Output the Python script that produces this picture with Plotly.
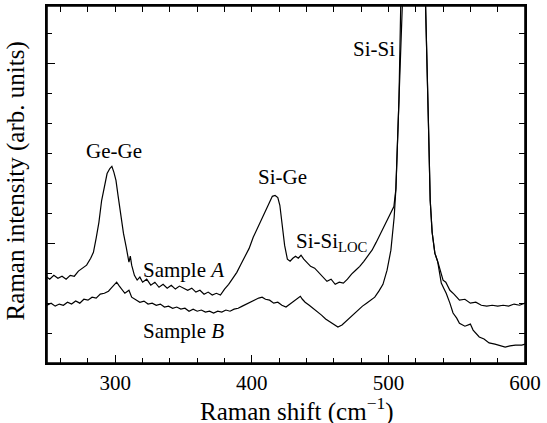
import plotly.graph_objects as go

# Raman shift (cm^-1) and intensity (arb. units)
shift_a = [250, 252, 255, 258, 261, 264, 267, 270, 273, 276, 279, 282, 284, 286, 288, 290, 292, 294, 296, 297.5,
           299, 300.5, 302, 304, 306, 308, 310, 311, 312, 314, 316, 318, 320, 323, 326, 329, 332, 335, 338, 341,
           344, 347, 350, 353, 356, 359, 362, 365, 368, 371, 374, 377, 380, 383, 386, 389, 392, 395, 398, 401,
           404, 407, 410, 413, 415, 417, 419, 420.5, 422, 424, 426, 428, 430, 432, 434, 436, 438, 440, 443, 446,
           449, 452, 455, 458, 461, 464, 467, 470, 473, 476, 479, 482, 485, 488, 491, 494, 497, 500, 502, 504,
           505.5, 507.7, 509, 511, 518, 524, 527.2, 529.3, 530.6, 532, 534, 536.5, 538, 540, 542, 545, 548, 552,
           556, 560, 564, 568, 572, 576, 580, 584, 588, 592, 596, 600]
int_a = [2.87, 2.80, 2.93, 2.83, 2.90, 2.80, 2.93, 2.90, 3.07, 3.17, 3.27, 3.50, 3.70, 4.17, 4.70, 5.43, 5.93, 6.33, 6.50, 6.57,
         6.37, 6.10, 5.60, 4.93, 4.33, 3.87, 3.37, 3.57, 3.27, 2.93, 2.77, 2.87, 2.70, 2.80, 2.60, 2.70, 2.53, 2.63, 2.50, 2.60,
         2.47, 2.57, 2.50, 2.43, 2.50, 2.37, 2.43, 2.30, 2.37, 2.27, 2.33, 2.27, 2.47, 2.63, 2.83, 3.03, 3.30, 3.57, 3.83, 4.20,
         4.50, 4.80, 5.10, 5.43, 5.57, 5.60, 5.53, 5.27, 4.77, 3.93, 3.47, 3.40, 3.50, 3.57, 3.50, 3.60, 3.47, 3.37, 3.23, 3.17,
         3.03, 2.90, 2.73, 2.80, 2.63, 2.70, 2.67, 2.80, 2.97, 3.10, 3.23, 3.40, 3.57, 3.77, 4.03, 4.30, 4.57, 4.83, 5.00, 5.23,
         5.83, 8.77, 11.93, 15.0, 22.0, 16.0, 11.93, 8.00, 5.43, 4.37, 3.67, 3.33, 3.10, 2.77, 2.70, 2.43, 2.30, 2.10,
         2.13, 2.00, 2.03, 1.93, 1.90, 1.93, 1.90, 1.93, 1.90, 1.97, 1.93, 2.00]

shift_b = [250, 253, 256, 259, 262, 265, 268, 271, 274, 277, 280, 283, 286, 289, 292, 295, 297, 299, 301, 303,
           305, 307, 309, 310, 312, 315, 318, 321, 324, 327, 330, 333, 336, 339, 342, 345, 348, 351, 354, 357,
           360, 363, 366, 369, 372, 375, 378, 381, 384, 387, 390, 393, 396, 399, 402, 405, 407.5, 410, 413, 416,
           419, 422, 425, 428, 431, 434, 435.5, 437, 439, 442, 445, 448, 451, 454, 457, 460, 463, 466, 469, 472,
           475, 478, 481, 484, 487, 490, 493, 496, 499, 501.8, 504.2, 505.4, 507.7, 509, 511, 518, 524, 527.2, 529.3, 530.6,
           532, 534, 536, 538.7, 540.5, 542.3, 545, 547.3, 550, 552, 556, 560, 562, 566.5, 570, 573.7, 578, 582, 585.5, 589,
           593, 597.7, 600]
int_b = [1.93, 2.00, 1.90, 1.97, 1.93, 2.03, 1.97, 2.07, 2.00, 2.13, 2.10, 2.20, 2.17, 2.30, 2.33, 2.40, 2.50, 2.60, 2.70, 2.57,
         2.43, 2.33, 2.40, 2.43, 2.20, 2.10, 2.03, 2.07, 1.97, 2.00, 1.93, 1.97, 1.87, 1.90, 1.83, 1.87, 1.80, 1.83, 1.73, 1.80,
         1.73, 1.77, 1.70, 1.73, 1.67, 1.73, 1.70, 1.77, 1.73, 1.80, 1.83, 1.90, 1.97, 2.03, 2.10, 2.17, 2.20, 2.13, 2.10, 2.00,
         2.03, 1.93, 1.87, 1.97, 2.07, 2.17, 2.23, 2.13, 2.03, 1.93, 1.83, 1.73, 1.60, 1.47, 1.37, 1.27, 1.20, 1.27, 1.40, 1.50,
         1.63, 1.77, 1.90, 2.00, 2.10, 2.20, 2.40, 2.63, 3.10, 3.77, 4.87, 5.77, 8.77, 11.93, 15.0, 22.0, 16.0, 11.93, 8.00, 5.43,
         4.37, 3.67, 3.40, 2.67, 2.50, 2.33, 2.00, 1.67, 1.50, 1.33, 1.23, 1.30, 1.10, 0.87, 0.80, 0.67, 0.63, 0.57, 0.53, 0.57,
         0.60, 0.60, 0.63]

x_range = [250, 600]
y_range = [0, 11.93]
x_tick_vals = [300, 400, 500, 600]
x_tick_text = ["300", "400", "500", "600"]

# text labels: (text, x, y, xanchor)
labels = [
    ("Ge-Ge", 299.0, 7.10, "center"),
    ("Si-Ge", 422.4, 6.20, "center"),
    ("Si-Si<sub>LOC</sub>", 430.8, 4.03, "left"),
    ("Sample <i>A</i>", 350.0, 3.10, "center"),
    ("Sample <i>B</i>", 350.2, 1.07, "center"),
    ("Si-Si", 489.2, 10.50, "center"),
]

FONT = "Liberation Serif"

fig = go.Figure()
fig.add_trace(go.Scatter(x=shift_a, y=int_a, mode="lines", line=dict(color="black", width=1.2),
                         showlegend=False, hoverinfo="skip"))
# sample B drawn on the mirrored (top/right) axes, which match the main ones
fig.add_trace(go.Scatter(x=shift_b, y=int_b, mode="lines", line=dict(color="black", width=1.2),
                         xaxis="x2", yaxis="y2", showlegend=False, hoverinfo="skip"))

axis_common = dict(showgrid=False, zeroline=False, showline=True, linecolor="black", linewidth=1.6,
                   ticks="inside", tickcolor="black", tickwidth=1.3)
x_minor = dict(ticks="inside", ticklen=5, dtick=20, tick0=0, tickcolor="black", tickwidth=1.2, showgrid=False)
y_minor = dict(ticks="inside", ticklen=5, dtick=1, tick0=0, tickcolor="black", tickwidth=1.2, showgrid=False)

fig.update_layout(
    width=547, height=423, autosize=False,
    margin=dict(l=47, r=15, t=6, b=60, pad=0),
    paper_bgcolor="white", plot_bgcolor="white",
    font=dict(family=FONT, color="black", size=21),
    xaxis=dict(range=x_range, tickvals=x_tick_vals, ticktext=x_tick_text, ticklen=8,
               tickfont=dict(family=FONT, size=21), ticklabeloverflow="allow", minor=x_minor, **axis_common),
    yaxis=dict(range=y_range, tick0=4, dtick=6, ticklen=8, showticklabels=False, minor=y_minor, **axis_common),
    xaxis2=dict(range=x_range, matches="x", overlaying="x", side="top", anchor="y2", tickmode="linear",
                tick0=0, dtick=20, ticklen=6, showticklabels=False, **axis_common),
    yaxis2=dict(range=y_range, matches="y", overlaying="y", side="right", anchor="x2", tickmode="linear",
                tick0=0, dtick=1, ticklen=6, showticklabels=False, **axis_common),
)

# plot frame
fig.add_shape(type="rect", xref="paper", yref="paper", x0=0, x1=1, y0=0, y1=1,
              line=dict(color="black", width=1.6), layer="above")

for text, x, y, xa in labels:
    fig.add_annotation(text=text, x=x, y=y, xref="x", yref="y", xanchor=xa, yanchor="middle",
                       showarrow=False, font=dict(family=FONT, size=21, color="black"))

fig.add_annotation(text="Raman shift (cm<sup>−1</sup>)", xref="paper", yref="paper", x=0.524, y=-0.131,
                   xanchor="center", yanchor="middle", showarrow=False, font=dict(family=FONT, size=25))
fig.add_annotation(text="Raman intensity (arb. units)", xref="paper", yref="paper", x=-0.066, y=0.51,
                   xanchor="center", yanchor="middle", textangle=-90, showarrow=False, font=dict(family=FONT, size=25))

fig.write_html("out.html", config={"displayModeBar": False},
               post_script="document.body.style.margin='0';document.body.style.overflow='hidden';")
